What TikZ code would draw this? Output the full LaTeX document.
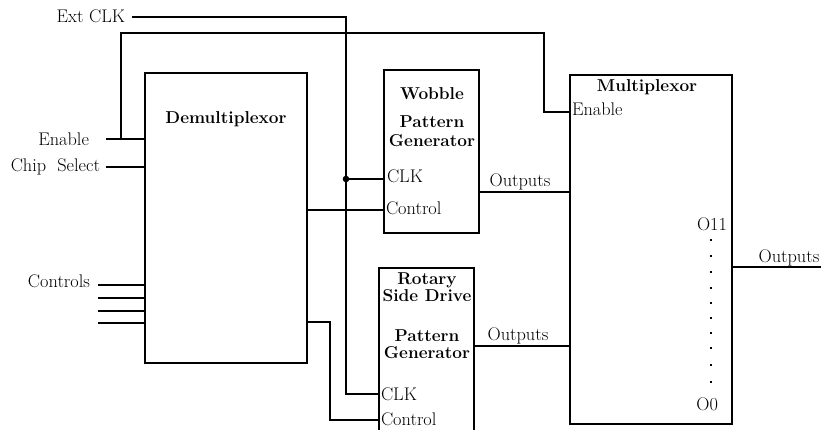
\documentclass[tikz,border=0pt]{standalone}
\usepackage{fontspec}
\begin{document}
\begin{tikzpicture}[x=1pt,y=-1pt,
  wire/.style={line width=1.5pt, line cap=rect},
  blockbox/.style={draw, line width=1.5pt, rectangle, inner sep=0pt, outer sep=0pt},
  lbl/.style={inner sep=0pt, outer sep=0pt, font=\fontsize{18.3}{20}\selectfont},
  ttl/.style={lbl, font=\fontsize{17.2}{19}\selectfont\bfseries},
  pdot/.style={fill, inner sep=0pt, minimum size=1.7pt},
]
\useasboundingbox (0,0) rectangle (821,430);
\clip (0,0) rectangle (821,430);
% blocks
\node[blockbox, minimum width=162pt, minimum height=290pt] (demux) at (226,218) {};
\node[blockbox, minimum width=95pt, minimum height=163pt] (wob) at (431.5,151.5) {};
\node[blockbox, minimum width=95pt, minimum height=172pt] (rot) at (426.5,354) {};
\node[blockbox, minimum width=162pt, minimum height=349pt] (mux) at (651,249.5) {};
% titles
\node[ttl, anchor=base] (tdemux) at (226,124) {Demultiplexor};
\node[ttl, anchor=base] (tw1) at (432,100) {Wobble};
\node[ttl, anchor=base] (tw2) at (432,128) {Pattern};
\node[ttl, anchor=base] (tw3) at (432,147) {Generator};
\node[ttl, anchor=base] (tr1) at (427,284) {Rotary};
\node[ttl, anchor=base] (tr2) at (427,301) {Side Drive};
\node[ttl, anchor=base] (tr3) at (427,341) {Pattern};
\node[ttl, anchor=base] (tr4) at (427,358) {Generator};
\node[ttl, anchor=base] (tmux) at (647,92) {Multiplexor};
% pin labels
\node[lbl, anchor=base west] (wclk) at (387,183) {CLK};
\node[lbl, anchor=base west] (wctl) at (386,215) {Control};
\node[lbl, anchor=base west] (rclk) at (381,400) {CLK};
\node[lbl, anchor=base west] (rctl) at (381,425) {Control};
\node[lbl, anchor=base west] (men) at (572,116) {Enable};
\node[lbl, anchor=base east] (mo11) at (727,230) {O11};
\node[lbl, anchor=base east] (mo0) at (718,410) {O0};
% external labels
\node[lbl, anchor=base east] (extclk) at (125,23) {Ext CLK};
\node[lbl, anchor=base east] (enable) at (89,146) {Enable};
\node[lbl, anchor=base east] (chipsel) at (100,172) {Chip\ \ Select};
\node[lbl, anchor=base east] (controls) at (90,287) {Controls};
\node[lbl, anchor=base] (wout) at (520,187) {Outputs};
\node[lbl, anchor=base] (rout) at (518,340) {Outputs};
\node[lbl, anchor=base] (mout) at (789,262) {Outputs};
% coordinates
\coordinate (clkstart) at (133,17);
\coordinate (junc) at (346,179);
\coordinate (enstart) at (107,139);
\coordinate (csstart) at (107,167);
% Ext CLK wiring
\draw[wire] (clkstart) -- (346,17) -- (346,394) -- (rot.west |- 0,394);
\draw[wire] (junc) -- (wob.west |- junc);
\fill (junc) circle (3.3pt);
% Enable wiring
\draw[wire] (enstart) -- (demux.west |- enstart);
\draw[wire] (121,139) -- (121,33) -- (544,33) -- (544,112) -- (mux.west |- 0,112);
% Chip select
\draw[wire] (csstart) -- (demux.west |- csstart);
% Controls
\foreach \yy in {285,298,311,323} {
  \draw[wire] (99,\yy) -- (demux.west |- 0,\yy);
}
% Demux to generators
\draw[wire] (demux.east |- 0,210) -- (wob.west |- 0,210);
\draw[wire] (demux.east |- 0,322) -- (330,322) -- (330,420) -- (rot.west |- 0,420);
% Outputs
\draw[wire] (wob.east |- 0,192) -- (mux.west |- 0,192);
\draw[wire] (rot.east |- 0,346) -- (mux.west |- 0,346);
\draw[wire] (mux.east |- 0,267) -- (821,267);
% dots
\foreach \yy in {240,256,272,288,303,318,333,348,365,382} {
  \node[pdot] at (711,\yy) {};
}
\end{tikzpicture}
\end{document}
